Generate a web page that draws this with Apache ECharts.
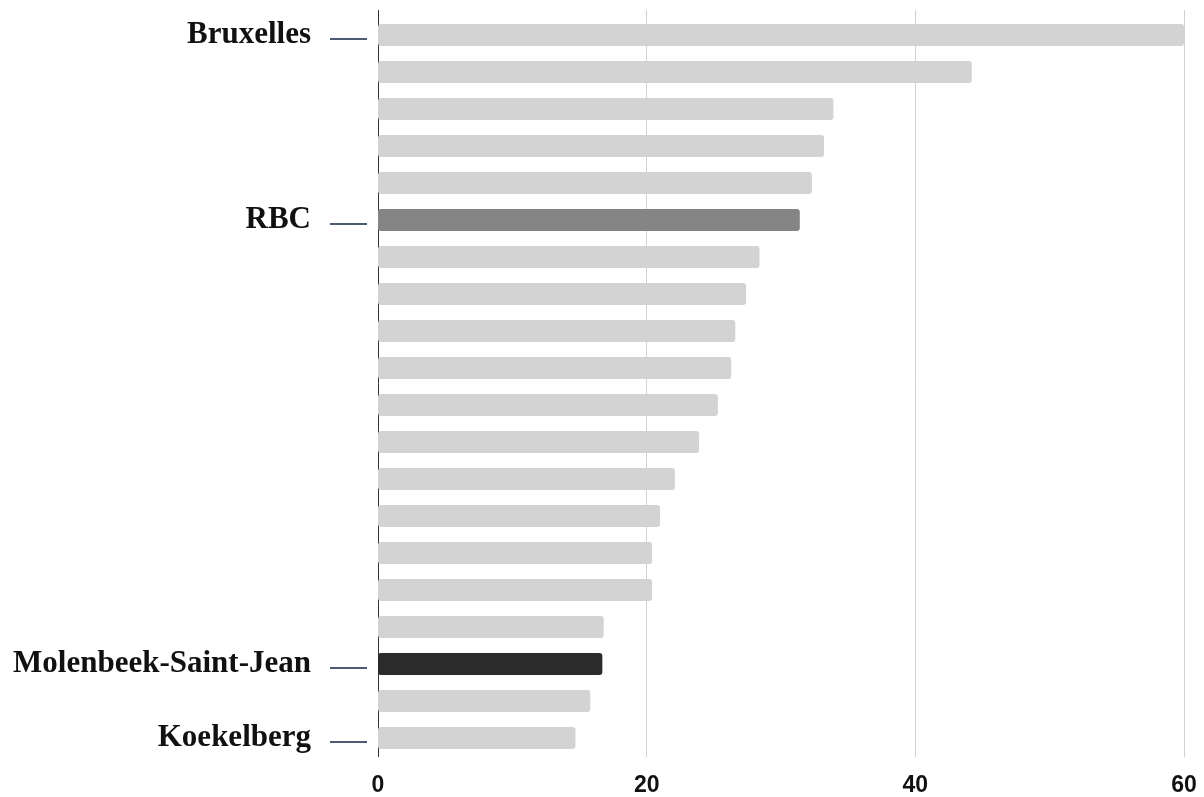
<!DOCTYPE html>
<html>
<head>
<meta charset="utf-8">
<script src="https://cdn.jsdelivr.net/npm/echarts@6/dist/echarts.min.js"></script>
<style>html,body{margin:0;padding:0;background:#fff}#c{width:1204px;height:797px}</style>
</head>
<body>
<div id="c"></div>
<script>
const categories = ["Bruxelles","Saint-Josse-ten-Noode","Schaerbeek","Anderlecht","Saint-Gilles","RBC","Forest","Ixelles","Etterbeek","Evere","Jette","Uccle","Auderghem","Ganshoren","Berchem-Sainte-Agathe","Woluwe-Saint-Lambert","Watermael-Boitsfort","Molenbeek-Saint-Jean","Woluwe-Saint-Pierre","Koekelberg"];
const values = [60.0,44.2,33.9,33.2,32.3,31.4,28.4,27.4,26.6,26.3,25.3,23.9,22.1,21.0,20.4,20.4,16.8,16.7,15.8,14.7];
const labelledCategories = ["Bruxelles","RBC","Molenbeek-Saint-Jean","Koekelberg"];
const highlight = {"RBC":"#858585","Molenbeek-Saint-Jean":"#2b2b2b"};
const xTicks = [0,20,40,60];

const chart = echarts.init(document.getElementById('c'));
const showIdx = (i) => labelledCategories.indexOf(categories[i]) >= 0;
chart.setOption({
  animation:false,
  grid:[
    {left:378, right:20, top:16.5, height:740},
    {left:378, right:20, top:10, bottom:35},
    {left:367, right:20, top:20, height:740}
  ],
  xAxis:[
    {gridIndex:0, type:'value', min:0, max:60, interval:20, show:false},
    {gridIndex:1, type:'value', min:0, max:60, interval:20,
      axisLine:{show:false}, axisTick:{show:false},
      splitLine:{show:true, lineStyle:{color:['#333333','#d0d0d0','#d0d0d0','#d0d0d0'], width:1}},
      axisLabel:{margin:17, color:'#111', fontSize:23, fontWeight:'bold', fontFamily:'Liberation Sans Narrow, Arial Narrow, sans-serif',
        formatter:(v)=> xTicks.indexOf(v)>=0 ? String(v) : ''}},
    {gridIndex:2, type:'value', min:0, max:60, show:false}
  ],
  yAxis:[
    {gridIndex:0, type:'category', data:categories, inverse:true,
      axisLine:{show:false}, axisTick:{show:false}, splitLine:{show:false},
      axisLabel:{interval:(i)=>showIdx(i), margin:67, color:'#111', fontSize:31, fontFamily:'Liberation Serif, Times New Roman, serif', fontWeight:'bold'}},
    {gridIndex:1, type:'value', min:0, max:1, show:false},
    {gridIndex:2, type:'category', data:categories, inverse:true,
      axisLine:{show:false}, axisLabel:{show:false}, splitLine:{show:false},
      axisTick:{show:true, alignWithLabel:true, interval:(i)=>showIdx(i), length:37, lineStyle:{color:'#4d5a74', width:2}}}
  ],
  series:[{
    type:'bar', xAxisIndex:0, yAxisIndex:0, barWidth:22, z:3,
    data: categories.map((c,i)=>({value:values[i], itemStyle:{color: highlight[c] || '#d3d3d3', borderRadius:3}}))
  }]
});
</script>
</body>
</html>
